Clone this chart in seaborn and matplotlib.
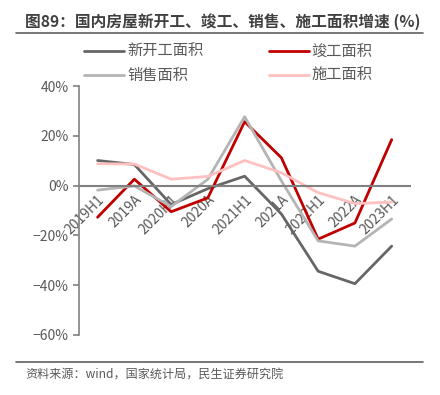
import numpy as np
import pandas as pd
import seaborn as sns
import matplotlib.pyplot as plt
from matplotlib.ticker import FixedLocator, PercentFormatter

# data (%)
periods = ['2019H1', '2019A', '2020H1', '2020A', '2021H1', '2021A', '2022H1', '2022A', '2023H1']
new_start = [10.1, 8.5, -7.6, -1.2, 3.8, -11.4, -34.4, -39.4, -24.3]
completion = [-12.7, 2.6, -10.5, -4.9, 25.7, 11.2, -21.5, -15.0, 18.5]
sales = [-1.8, -0.1, -8.4, 2.6, 27.7, 1.9, -22.2, -24.3, -13.4]
construction = [8.8, 8.7, 2.6, 3.7, 10.1, 5.2, -2.8, -7.2, -6.6]

series_names = ['新开工面积', '竣工面积', '销售面积', '施工面积']
colors = ['#666666', '#C00000', '#B4B4B4', '#FFC0C0']

df = pd.DataFrame({'period': periods * 4,
                   'value': new_start + completion + sales + construction,
                   'series': np.repeat(series_names, len(periods))})

sns.set_style('white')
plt.rcParams['font.family'] = ['Noto Sans CJK SC', 'DejaVu Sans']
grey = '#595959'

fig = plt.figure(figsize=(4.4, 3.95), dpi=100)
ax = fig.add_axes([0.18, 0.152, 0.752, 0.63])

sns.lineplot(data=df, x='period', y='value', hue='series', palette=colors,
             sort=False, linewidth=2, ax=ax, legend=False)

ax.set_xlim(-0.5, len(periods) - 0.5)
ax.set_ylim(-60, 40)
ax.set_yticks(range(-60, 41, 20))
ax.yaxis.set_major_formatter(PercentFormatter(decimals=0))
ax.set_xlabel('')
ax.set_ylabel('')

for s in ['top', 'right']:
    ax.spines[s].set_visible(False)
ax.spines['bottom'].set_position(('data', 0))
ax.spines['bottom'].set_color('#808080')
ax.spines['bottom'].set_linewidth(1.5)
ax.spines['left'].set_color('#808080')
ax.spines['left'].set_linewidth(1.2)

ax.set_xticks(range(len(periods)))
ax.set_xticklabels(periods, rotation=45, ha='right', rotation_mode='anchor')
ax.xaxis.set_minor_locator(FixedLocator(np.arange(-0.5, len(periods), 1)))
ax.tick_params(axis='x', which='major', length=0, pad=5, labelsize=10, labelcolor=grey)
ax.tick_params(axis='x', which='minor', length=4, width=1.2, color='#808080', direction='out')
ax.tick_params(axis='y', length=4, width=1.2, color='#808080', labelsize=10, labelcolor=grey, left=True)

# legend, two columns (filled column by column)
handles = [plt.Line2D([], [], color=c, linewidth=2) for c in colors]
order = [0, 2, 1, 3]
fig.legend([handles[i] for i in order], [series_names[i] for i in order],
           ncol=2, loc='upper left', bbox_to_anchor=(0.16, 0.925), frameon=False,
           fontsize=11, labelcolor=grey, handlelength=2.6, handletextpad=0.2,
           columnspacing=4.3, labelspacing=0.45)

# title, rules and source
fig.text(0.057, 0.945, '图89：国内房屋新开工、竣工、销售、施工面积增速 (%)', fontsize=11.3,
         fontweight='bold', color='#404040', va='center')
fig.add_artist(plt.Line2D([0.036, 0.962], [0.916, 0.916], color='#606060', linewidth=1.2))
fig.add_artist(plt.Line2D([0.036, 0.962], [0.083, 0.083], color='#606060', linewidth=1.2))
fig.text(0.057, 0.05, '资料来源：wind，国家统计局，民生证券研究院', fontsize=8.7,
         color=grey, va='center')

fig.savefig('out.png', dpi=100)
